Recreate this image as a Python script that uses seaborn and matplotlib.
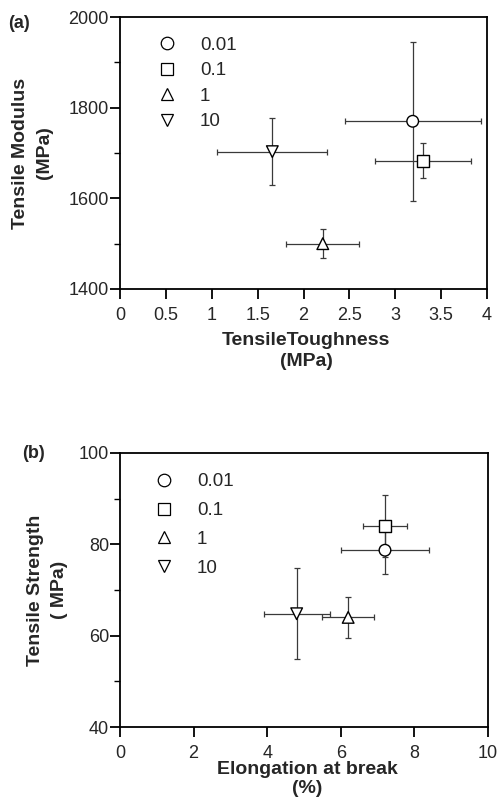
import matplotlib
matplotlib.use("Agg")
import matplotlib.pyplot as plt
import seaborn as sns
import pandas as pd
from matplotlib.ticker import MultipleLocator, FuncFormatter

# concentration levels (legend labels)
levels = ["0.01", "0.1", "1", "10"]
markers = ["o", "s", "^", "v"]

# panel (a): tensile toughness vs tensile modulus
toughness = [3.19, 3.30, 2.21, 1.66]
toughness_err = [0.74, 0.52, 0.40, 0.60]
modulus = [1770, 1683, 1500, 1703]
modulus_err = [175, 39, 32, 74]

# panel (b): elongation at break vs tensile strength
elongation = [7.2, 7.2, 6.2, 4.8]
elongation_err = [1.2, 0.6, 0.7, 0.9]
strength = [78.7, 84.0, 64.0, 64.8]
strength_err = [5.3, 6.7, 4.5, 10.0]

sns.set_style("ticks")
plt.rcParams['font.family'] = ['Liberation Sans', 'DejaVu Sans']

fig = plt.figure(figsize=(4.99, 7.99), dpi=100)
ax_a = fig.add_axes([0.2405, 0.6383, 0.7355, 0.3404])
ax_b = fig.add_axes([0.2405, 0.0901, 0.7375, 0.3430])


def draw_panel(ax, x, xerr, y, yerr, leg_anchor, leg_spacing):
    df = pd.DataFrame({"x": x, "y": y, "level": levels})
    for xi, yi, xe, ye in zip(x, y, xerr, yerr):
        ax.errorbar(xi, yi, xerr=xe, yerr=ye, fmt="none", ecolor="#3a3a3a",
                    elinewidth=0.9, capsize=2.5, capthick=0.9, zorder=1)
    sns.scatterplot(data=df, x="x", y="y", style="level", markers=markers,
                    style_order=levels, color="white", edgecolor="black",
                    linewidth=1.0, s=70, ax=ax, zorder=3)
    leg = ax.legend(loc="upper left", bbox_to_anchor=leg_anchor, frameon=False,
                    borderaxespad=0, borderpad=0, handlelength=1.0,
                    handletextpad=1.25, labelspacing=leg_spacing, fontsize=13.5)
    for h in leg.legend_handles:
        h.set_markerfacecolor("white")
        h.set_markeredgecolor("black")
        h.set_markeredgewidth(0.9)
        h.set_markersize(9)
    for s in ax.spines.values():
        s.set_linewidth(1.3)
        s.set_color("black")
    ax.tick_params(which="major", direction="out", length=7, width=1.3,
                   labelsize=13, color="black")
    ax.tick_params(axis="x", which="major", pad=6)
    ax.tick_params(axis="y", which="major", pad=1)
    ax.tick_params(which="minor", direction="out", length=4, width=1.0,
                   color="black")
    ax.tick_params(axis="x", which="minor", length=0)
    fmt = FuncFormatter(lambda v, p: "{:g}".format(v))
    ax.xaxis.set_major_formatter(fmt)
    ax.yaxis.set_major_formatter(fmt)


draw_panel(ax_a, toughness, toughness_err, modulus, modulus_err,
           (0.1025, 0.928), 0.45)
ax_a.set_xlim(0, 4)
ax_a.set_ylim(1400, 2000)
ax_a.xaxis.set_major_locator(MultipleLocator(0.5))
ax_a.yaxis.set_major_locator(MultipleLocator(200))
ax_a.yaxis.set_minor_locator(MultipleLocator(100))
ax_a.set_xlabel("TensileToughness\n(MPa)", fontweight="bold", fontsize=14,
                linespacing=1.3, va="center")
ax_a.xaxis.set_label_coords(0.507, -0.228)
ax_a.set_ylabel("Tensile Modulus\n(MPa)", fontweight="bold", fontsize=14,
                linespacing=1.5, va="center")
ax_a.yaxis.set_label_coords(-0.238, 0.5)
fig.text(8 / 499, 1 - 23 / 799, "(a)", fontweight="bold", fontsize=13, va="center")

draw_panel(ax_b, elongation, elongation_err, strength, strength_err,
           (0.094, 0.926), 0.62)
ax_b.set_xlim(0, 10)
ax_b.set_ylim(40, 100)
ax_b.xaxis.set_major_locator(MultipleLocator(2))
ax_b.yaxis.set_major_locator(MultipleLocator(20))
ax_b.yaxis.set_minor_locator(MultipleLocator(10))
ax_b.set_xlabel("Elongation at break\n(%)", fontweight="bold", fontsize=14,
                linespacing=1.2, va="center")
ax_b.xaxis.set_label_coords(0.509, -0.19)
ax_b.set_ylabel("Tensile Strength\n( MPa)", fontweight="bold", fontsize=14,
                linespacing=1.5, va="center")
ax_b.yaxis.set_label_coords(-0.197, 0.5)
fig.text(22 / 499, 1 - 453 / 799, "(b)", fontweight="bold", fontsize=13, va="center")

fig.savefig("out.png", dpi=100)
plt.close(fig)
